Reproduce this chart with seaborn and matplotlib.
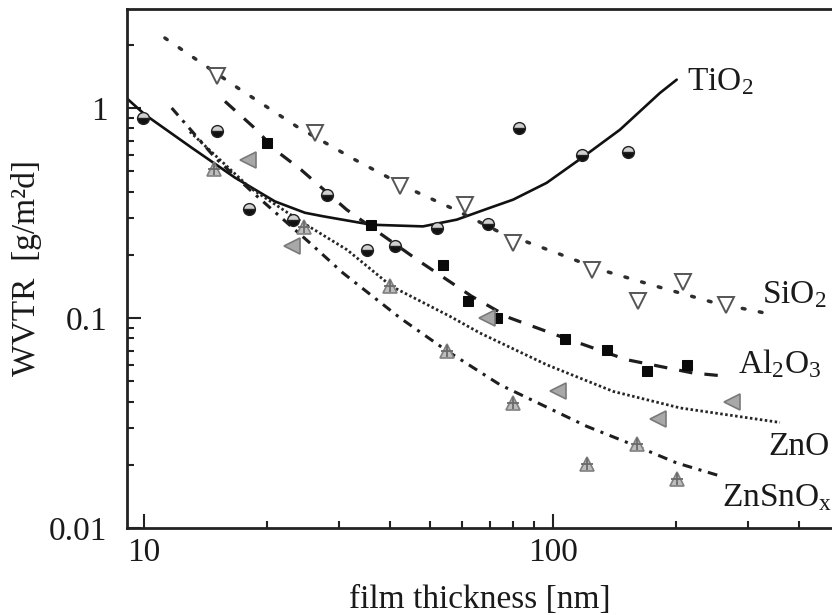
import matplotlib
matplotlib.use("Agg")
import matplotlib.pyplot as plt
import seaborn as sns

# ---------------- data ----------------
tio2_x = [9.94, 15.06, 18.06, 23.17, 27.97, 35.04, 41.1, 51.97, 69.5, 82.7, 117.5, 152.8]
tio2_y = [0.90, 0.774, 0.332, 0.294, 0.386, 0.211, 0.221, 0.268, 0.281, 0.803, 0.599, 0.615]

al2o3_x = [19.95, 36.0, 53.9, 61.97, 72.8, 106.9, 135.3, 169.8, 212.3]
al2o3_y = [0.681, 0.278, 0.1795, 0.12, 0.1, 0.0794, 0.0702, 0.0557, 0.0599]

sio2_x = [15.06, 26.19, 42.3, 60.9, 80.0, 124.3, 161.7, 208.3, 264.8]
sio2_y = [1.414, 0.760, 0.423, 0.3464, 0.2275, 0.170, 0.12, 0.149, 0.1157]

zno_x = [17.99, 23.0, 68.9, 103.0, 180.9, 274.7]
zno_y = [0.567, 0.221, 0.1, 0.0447, 0.0331, 0.040]

znsno_x = [14.83, 24.66, 39.96, 54.96, 80.0, 120.9, 160.2, 200.7]
znsno_y = [0.514, 0.2706, 0.1414, 0.0699, 0.0394, 0.0202, 0.0251, 0.0171]

# fitted curves
tio2_fit_x = [9.1, 10.06, 13.08, 16.69, 20.9, 24.75, 27.4, 36.0, 48.1, 58.2, 70.2, 79.9, 96.5, 117.5, 145.8, 182.6, 200.7]
tio2_fit_y = [1.107, 0.929, 0.647, 0.466, 0.359, 0.317, 0.305, 0.278, 0.273, 0.294, 0.335, 0.366, 0.44, 0.578, 0.788, 1.179, 1.364]

sio2_fit_x = [11.25, 16.97, 23.62, 32.8, 45.1, 57.6, 73.4, 102.1, 130.3, 179.3, 248.9, 345.6]
sio2_fit_y = [2.154, 1.245, 0.817, 0.567, 0.408, 0.328, 0.2585, 0.204, 0.170, 0.1414, 0.118, 0.1037]

al2o3_fit_x = [15.78, 18.48, 21.15, 24.2, 31.3, 36.1, 47.3, 63.3, 78.5, 104.0, 151.4, 219.9, 267.9]
al2o3_fit_y = [1.075, 0.815, 0.6215, 0.5085, 0.328, 0.269, 0.1854, 0.1268, 0.1, 0.0818, 0.0633, 0.0547, 0.0527]

zno_fit_x = [12.95, 18.16, 24.47, 31.35, 40.33, 56.0, 66.3, 96.5, 140.4, 204.5, 358.9]
zno_fit_y = [0.771, 0.417, 0.284, 0.2114, 0.1414, 0.1018, 0.0848, 0.0599, 0.0447, 0.0373, 0.0318]

znsno_fit_x = [11.69, 14.92, 18.48, 25.46, 30.67, 42.3, 54.96, 74.2, 120.9, 160.2, 200.7, 258.5]
znsno_fit_y = [1.0, 0.58, 0.395, 0.2275, 0.1637, 0.100, 0.0699, 0.0481, 0.0305, 0.0245, 0.0204, 0.0176]

x_ticks = [10, 100]
x_tick_labels = ["10", "100"]
y_ticks = [0.01, 0.1, 1]
y_tick_labels = ["0.01", "0.1", "1"]

curve_labels = [r"TiO$_{\rm 2}$", r"SiO$_{\rm 2}$", r"Al$_{\rm 2}$O$_{\rm 3}$", "ZnO", r"ZnSnO$_{\rm x}$"]
label_pos_x = [212.7, 323.8, 283.9, 336.0, 258.5]
label_pos_y = [1.22, 0.118, 0.0547, 0.0223, 0.01267]

# ---------------- style ----------------
sns.set_style("ticks")
plt.rcParams["font.family"] = ["Liberation Serif", "DejaVu Serif"]
plt.rcParams["mathtext.fontset"] = "custom"
plt.rcParams["mathtext.rm"] = "Liberation Serif"
plt.rcParams["mathtext.it"] = "Liberation Serif:italic"
plt.rcParams["mathtext.bf"] = "Liberation Serif:bold"

fig = plt.figure(figsize=(8.32, 6.15), dpi=100)
ax = fig.add_axes([127 / 832, 1 - 528 / 615, (832 - 127) / 832, (528 - 9) / 615])
ax.set_xscale("log")
ax.set_yscale("log")

lc = "#1e1e1e"

# fitted curves
sns.lineplot(x=tio2_fit_x, y=tio2_fit_y, ax=ax, color="#111111", lw=1.9,
             estimator=None, sort=False)
sns.lineplot(x=sio2_fit_x, y=sio2_fit_y, ax=ax, color="#2e2e2e", lw=2.5,
             linestyle=(0, (0.8, 4.2)), dash_capstyle="round", estimator=None, sort=False)
sns.lineplot(x=al2o3_fit_x, y=al2o3_fit_y, ax=ax, color=lc, lw=2.3,
             linestyle=(0, (4.2, 3.8)), estimator=None, sort=False)
sns.lineplot(x=zno_fit_x, y=zno_fit_y, ax=ax, color="#262626", lw=2.0,
             linestyle=(0, (0.9, 0.9)), estimator=None, sort=False)
sns.lineplot(x=znsno_fit_x, y=znsno_fit_y, ax=ax, color=lc, lw=2.2,
             linestyle=(0, (3.2, 2.2, 1.0, 2.2)), estimator=None, sort=False)

# markers
sns.lineplot(x=tio2_x, y=tio2_y, ax=ax, estimator=None, sort=False,
             linestyle="none", marker="o", markersize=8.5, fillstyle="bottom",
             markerfacecolor="#111111", markerfacecoloralt="#d0d0d0",
             markeredgecolor="#222222", markeredgewidth=1.0)
sns.lineplot(x=al2o3_x, y=al2o3_y, ax=ax, estimator=None, sort=False,
             linestyle="none", marker="s", markersize=7.5,
             markerfacecolor="#0a0a0a", markeredgecolor="#0a0a0a")
sns.lineplot(x=sio2_x, y=sio2_y, ax=ax, estimator=None, sort=False,
             linestyle="none", marker="v", markersize=11,
             markerfacecolor="white", markeredgecolor="#555555", markeredgewidth=1.4)
sns.lineplot(x=zno_x, y=zno_y, ax=ax, estimator=None, sort=False,
             linestyle="none", marker="<", markersize=11,
             markerfacecolor="#a8a8a8", markeredgecolor="#7a7a7a", markeredgewidth=1.2)
sns.lineplot(x=znsno_x, y=znsno_y, ax=ax, estimator=None, sort=False,
             linestyle="none", marker="^", markersize=10,
             markerfacecolor="#bdbdbd", markeredgecolor="#808080", markeredgewidth=1.2)
sns.lineplot(x=znsno_x, y=znsno_y, ax=ax, estimator=None, sort=False,
             linestyle="none", marker="+", markersize=9,
             markeredgecolor="#6a6a6a", markeredgewidth=1.3)

# curve labels
for txt, lx, ly in zip(curve_labels, label_pos_x, label_pos_y):
    ax.text(lx, ly, txt, fontsize=24, color="#1a1a1a", ha="left", va="baseline")

# axes
ax.set_xlim(9.09, 481)
ax.set_ylim(0.01, 2.96)
ax.set_xticks(x_ticks)
ax.set_xticklabels(x_tick_labels)
ax.set_yticks(y_ticks)
ax.set_yticklabels(y_tick_labels)
ax.tick_params(which="major", direction="in", length=10, width=1.5, labelsize=24,
               color="#222222", labelcolor="#1a1a1a")
ax.tick_params(which="minor", direction="in", length=5, width=1.5, color="#222222")
ax.tick_params(axis="x", which="both", pad=7, top=False)
ax.tick_params(axis="y", which="both", pad=14, right=False)

for side in ["left", "bottom", "top"]:
    ax.spines[side].set_linewidth(2.0)
    ax.spines[side].set_color("#222222")
ax.spines["right"].set_visible(False)

ax.set_xlabel("film thickness [nm]", fontsize=24, color="#1a1a1a", labelpad=12)
ax.set_ylabel("WVTR  [g/m²d]", fontsize=24, color="#1a1a1a", labelpad=5)

fig.savefig("out.png", dpi=100)
